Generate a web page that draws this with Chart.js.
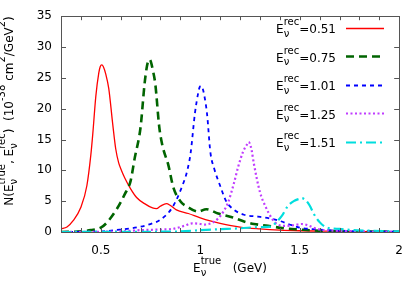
<!DOCTYPE html>
<html>
<head>
<meta charset="utf-8">
<script src="https://cdn.jsdelivr.net/npm/chart.js@4/dist/chart.umd.min.js"></script>
<style>
  html, body { margin: 0; padding: 0; background: #fff; }
  canvas { display: block; }
</style>
</head>
<body>
<canvas id="c" width="415" height="281"></canvas>
<script>
// E_rec values (legend)
var recLabels = ['0.51', '0.75', '1.01', '1.25', '1.51']

// E_true (GeV) and N (1e-38 cm^2/GeV^2)
var xRec051 = [0.30,0.33,0.36,0.40,0.43,0.45,0.46,0.475,0.49,0.497,0.505,0.513,0.525,0.54,0.56,0.575,0.59,0.60,0.62,0.65,0.68,0.72,0.76,0.78,0.80,0.83,0.85,0.88,0.94,1.00,1.05,1.10,1.20,1.30,1.40,1.50,1.60,1.70,1.80,1.90,2.00]
var nRec051 = [0.5,0.8,1.8,4.0,7.5,12.5,16.0,22.0,25.8,26.8,27.1,26.8,25.6,23.3,17.5,13.5,11.2,10.3,8.8,7.0,5.6,4.6,3.9,3.8,4.2,4.6,4.3,3.6,3.0,2.3,1.8,1.4,0.8,0.5,0.3,0.2,0.15,0.1,0.08,0.05,0.05]

var xRec075 = [0.30,0.40,0.45,0.50,0.53,0.58,0.62,0.65,0.67,0.70,0.72,0.73,0.737,0.744,0.752,0.76,0.774,0.794,0.81,0.84,0.865,0.90,0.94,0.99,1.03,1.09,1.16,1.22,1.27,1.34,1.42,1.50,1.60,1.70,1.80,2.00]
var nRec075 = [0.0,0.1,0.3,0.7,1.5,3.7,6.1,8.3,11.9,17.0,24.0,26.5,27.6,28.0,27.6,26.5,24.0,17.0,14.0,10.8,7.2,5.0,4.0,3.3,3.7,3.0,2.4,1.7,1.3,1.0,0.6,0.4,0.2,0.15,0.1,0.05]

var xRec101 = [0.30,0.50,0.60,0.69,0.76,0.80,0.86,0.91,0.935,0.952,0.973,0.99,0.997,1.004,1.012,1.02,1.034,1.051,1.07,1.10,1.13,1.17,1.22,1.29,1.35,1.39,1.46,1.50,1.60,1.70,1.80,2.00]
var nRec101 = [0.0,0.1,0.4,0.8,1.4,2.0,4.0,7.5,10.0,12.9,19.2,22.6,23.5,23.7,23.3,22.2,19.2,12.9,10.3,7.5,5.0,3.6,2.8,2.5,2.2,1.9,1.1,0.7,0.4,0.2,0.1,0.05]

var xRec125 = [0.30,0.60,0.70,0.80,0.86,0.92,0.96,1.00,1.02,1.06,1.09,1.12,1.14,1.17,1.19,1.215,1.235,1.243,1.25,1.258,1.27,1.30,1.33,1.36,1.39,1.43,1.47,1.51,1.54,1.57,1.60,1.70,1.80,2.00]
var nRec125 = [0.0,0.1,0.3,0.4,0.5,1.0,1.4,1.3,1.2,1.5,2.2,3.5,4.8,8.0,10.5,13.0,14.2,14.6,14.3,13.3,11.0,6.5,4.0,2.2,1.2,1.0,1.1,1.3,1.1,0.7,0.4,0.2,0.1,0.05]

var xRec151 = [0.30,0.80,0.90,1.00,1.10,1.20,1.30,1.36,1.38,1.41,1.44,1.47,1.50,1.51,1.52,1.535,1.55,1.57,1.60,1.63,1.66,1.70,1.77,1.87,2.00]
var nRec151 = [0.0,0.05,0.1,0.3,0.45,0.6,0.8,0.9,1.5,2.6,4.2,5.0,5.4,5.5,5.4,5.0,4.3,3.0,1.6,0.8,0.6,0.5,0.3,0.2,0.1]

var yTicks = { min: 0, max: 35, step: 5 }
var xTicks = { min: 0.3, max: 2, step: 0.1 }

var FONT = '"DejaVu Sans", sans-serif'
var BIG = 12, SMALL = 10

function pts(xs, ys) {
	return xs.map(function (x, i) { return { x: x, y: ys[i] } })
}

var styles = [
	{ color: '#ff0000', width: 1.3, dash: [] },
	{ color: '#006400', width: 2.6, dash: [8, 5] },
	{ color: '#0000ff', width: 1.8, dash: [4, 4] },
	{ color: '#c03cff', width: 2.2, dash: [2, 2.5] },
	{ color: '#00dede', width: 2.2, dash: [10, 4, 2, 4] }
]
var series = [
	pts(xRec051, nRec051), pts(xRec075, nRec075), pts(xRec101, nRec101),
	pts(xRec125, nRec125), pts(xRec151, nRec151)
]

// rich text: strings or {sub, sup} stacks
function richWidth(ctx, parts) {
	var w = 0
	parts.forEach(function (p) {
		if (typeof p == 'string') { ctx.font = BIG + 'px ' + FONT; w += ctx.measureText(p).width }
		else {
			ctx.font = SMALL + 'px ' + FONT
			w += Math.max(p.sub ? ctx.measureText(p.sub).width : 0, p.sup ? ctx.measureText(p.sup).width : 0)
		}
	})
	return w
}
function drawRich(ctx, parts, x, y) {
	ctx.textBaseline = 'alphabetic'
	ctx.textAlign = 'left'
	parts.forEach(function (p) {
		if (typeof p == 'string') {
			ctx.font = BIG + 'px ' + FONT
			ctx.fillText(p, x, y)
			x += ctx.measureText(p).width
		} else {
			ctx.font = SMALL + 'px ' + FONT
			var w = 0
			if (p.sub) { ctx.fillText(p.sub, x, y + 3.5); w = ctx.measureText(p.sub).width }
			if (p.sup) { ctx.fillText(p.sup, x, y - 8); w = Math.max(w, ctx.measureText(p.sup).width) }
			x += w
		}
	})
}

var decor = {
	id: 'decor',
	afterDatasetsDraw: function (chart) {
		var ctx = chart.ctx, a = chart.chartArea
		var sx = chart.scales.x, sy = chart.scales.y
		ctx.save()
		ctx.strokeStyle = '#555'
		ctx.lineWidth = 1
		ctx.setLineDash([])
		ctx.beginPath()
		sx.ticks.forEach(function (t) {
			var p = Math.round(sx.getPixelForValue(t.value)) + 0.5
			ctx.moveTo(p, a.bottom); ctx.lineTo(p, a.bottom - 4)
			ctx.moveTo(p, a.top); ctx.lineTo(p, a.top + 4)
		})
		sy.ticks.forEach(function (t) {
			var p = Math.round(sy.getPixelForValue(t.value)) + 0.5
			ctx.moveTo(a.left, p); ctx.lineTo(a.left + 5, p)
			ctx.moveTo(a.right, p); ctx.lineTo(a.right - 5, p)
		})
		ctx.stroke()
		ctx.strokeRect(Math.round(a.left) + 0.5, Math.round(a.top) + 0.5, Math.round(a.right - a.left), Math.round(a.bottom - a.top))

		// legend
		ctx.fillStyle = '#000'
		styles.forEach(function (st, i) {
			var base = 33 + i * 28.5
			var parts = ['E', { sub: 'ν', sup: 'rec' }, '=' + recLabels[i]]
			drawRich(ctx, parts, 336 - richWidth(ctx, parts), base)
			ctx.beginPath()
			ctx.strokeStyle = st.color
			ctx.lineWidth = st.width
			ctx.setLineDash(st.dash)
			ctx.moveTo(346, Math.round(base - 5.5) + 0.5); ctx.lineTo(384, Math.round(base - 5.5) + 0.5)
			ctx.stroke()
		})
		ctx.setLineDash([])

		// axis titles
		var xt = ['E', { sub: 'ν', sup: 'true' }, '   (GeV)']
		drawRich(ctx, xt, 230 - richWidth(ctx, xt) / 2, 272)
		var yt = ['N(E', { sub: 'ν', sup: 'true' }, ', E', { sub: 'ν', sup: 'rec' }, ')  (10', { sup: '-38' }, ' cm', { sup: '2' }, '/GeV', { sup: '2' }, ')']
		ctx.translate(13, 111)
		ctx.rotate(-Math.PI / 2)
		drawRich(ctx, yt, -richWidth(ctx, yt) / 2, 0)
		ctx.restore()
	}
}

new Chart(document.getElementById('c'), {
	type: 'line',
	data: {
		datasets: series.map(function (d, i) {
			return {
				label: 'E_rec=' + recLabels[i],
				data: d,
				borderColor: styles[i].color,
				borderWidth: styles[i].width,
				borderDash: styles[i].dash,
				pointRadius: 0,
				fill: false,
				cubicInterpolationMode: 'monotone',
				order: 5 - i
			}
		})
	},
	options: {
		responsive: false,
		animation: false,
		layout: { padding: { top: 10, right: 13, left: 0, bottom: 0 } },
		scales: {
			x: {
				type: 'linear', min: xTicks.min, max: xTicks.max,
				afterFit: function (s) { s.height = 49 },
				grid: { display: false, drawTicks: false },
				border: { display: false },
				ticks: {
					stepSize: xTicks.step, autoSkip: false, maxRotation: 0, padding: 12,
					color: '#000', font: { family: FONT, size: BIG },
					callback: function (v) {
						var h = v * 2
						return Math.abs(h - Math.round(h)) < 1e-6 ? String(Math.round(h) / 2) : ''
					}
				}
			},
			y: {
				min: yTicks.min, max: yTicks.max,
				afterFit: function (s) { s.width = 61 },
				grid: { display: false, drawTicks: false },
				border: { display: false },
				ticks: { stepSize: yTicks.step, padding: 9, color: '#000', font: { family: FONT, size: BIG } }
			}
		},
		plugins: { legend: { display: false }, tooltip: { enabled: false } }
	},
	plugins: [decor]
})
</script>
</body>
</html>
